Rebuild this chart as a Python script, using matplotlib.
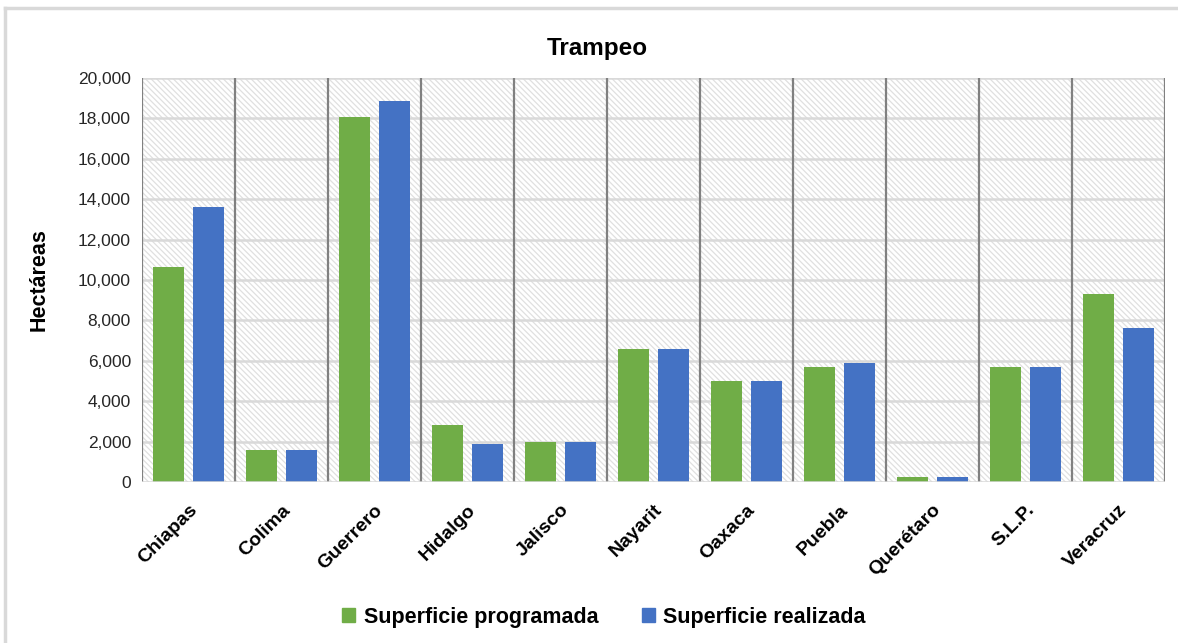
import matplotlib
matplotlib.use("Agg")
import matplotlib.pyplot as plt
from matplotlib.patches import Rectangle
from matplotlib.lines import Line2D
import numpy as np

plt.rcParams['font.family'] = ['Liberation Sans', 'DejaVu Sans']
plt.rcParams['hatch.linewidth'] = 0.9

categories = ["Chiapas", "Colima", "Guerrero", "Hidalgo", "Jalisco", "Nayarit",
              "Oaxaca", "Puebla", "Querétaro", "S.L.P.", "Veracruz"]
programada = [10650, 1600, 18050, 2800, 2000, 6600, 5000, 5700, 250, 5700, 9300]
realizada = [13600, 1600, 18850, 1900, 2000, 6600, 5000, 5870, 250, 5700, 7600]
yticks = [0, 2000, 4000, 6000, 8000, 10000, 12000, 14000, 16000, 18000, 20000]
series_names = ["Superficie programada", "Superficie realizada"]

green = "#70AD47"
blue = "#4472C4"

W, H = 1178, 643
fig = plt.figure(figsize=(W / 100, H / 100), dpi=100)
ax = fig.add_axes([142 / W, (H - 482) / H, (1165 - 142) / W, (482 - 78) / H])

n = len(categories)
x = np.arange(n)
bw = 0.337
off = 0.217
ax.set_xlim(-0.5, n - 0.5)
ax.set_ylim(0, 20000)

# hatched background
ax.set_facecolor("white")
ax.add_patch(Rectangle((0, 0), 1, 1, transform=ax.transAxes, facecolor="white",
                       edgecolor="#e0e0e0", linewidth=0, hatch="\\" * 6, zorder=0))

# horizontal gridlines
for t in yticks[1:]:
    ax.axhline(t, color="#d9d9d9", lw=1.8, zorder=0.5)
# vertical dividers
for b in np.arange(n + 1) - 0.5:
    ax.axvline(b, color="#808080", lw=1.6, zorder=0.6)

ax.bar(x - off, programada, width=bw, color=green, zorder=2)
ax.bar(x + off, realizada, width=bw, color=blue, zorder=2)

for s in ax.spines.values():
    s.set_visible(False)
ax.axhline(0, color="#d9d9d9", lw=1.8, zorder=3)

ax.set_yticks(yticks)
ax.set_yticklabels([f"{v:,}" for v in yticks], fontsize=12.5, color="#262626")
ax.set_xticks(x)
ax.set_xticklabels(categories, rotation=45, ha="right", rotation_mode="anchor",
                   fontsize=14, fontweight="bold")
ax.tick_params(axis="both", length=0)
ax.tick_params(axis="y", pad=8)
ax.tick_params(axis="x", pad=14)

ax.set_ylabel("Hectáreas", fontsize=15.5, fontweight="bold", labelpad=20)
fig.text(597 / W, 1 - 48 / H, "Trampeo", ha="center", va="center",
         fontsize=17.5, fontweight="bold")

handles = [Rectangle((0, 0), 1, 1, color=green), Rectangle((0, 0), 1, 1, color=blue)]
fig.legend(handles, series_names, loc="center", bbox_to_anchor=(604 / W, 1 - 617 / H),
           ncol=2, frameon=False, prop={"size": 15.5, "weight": "bold"},
           handlelength=0.6, handleheight=0.6, handletextpad=0.4, columnspacing=2.0)

# chart border (top and left visible)
fig.add_artist(Line2D([5 / W, 1.0], [1 - 8 / H, 1 - 8 / H], color="#d9d9d9", lw=2.5))
fig.add_artist(Line2D([5 / W, 5 / W], [0, 1 - 8 / H], color="#d9d9d9", lw=2.5))

# cut-off text fragment at top edge (as in the reference)
fig.text(310 / W, 1 + 9 / H, "p", ha="center", va="baseline", fontsize=16, color="black")

fig.savefig("out.png", dpi=100)
